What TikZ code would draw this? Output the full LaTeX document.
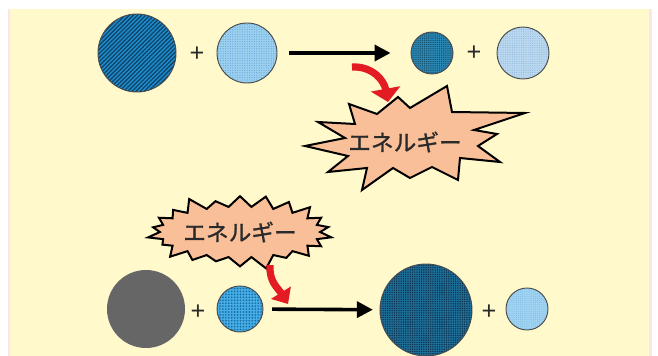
\documentclass[tikz,border=0pt]{standalone}
\usepackage{fontspec}
\newfontfamily\cjk[FakeBold=1.2]{Noto Sans CJK JP}
\newfontfamily\plusfont{Liberation Sans}
\usetikzlibrary{arrows.meta,patterns.meta,shapes.symbols}
\definecolor{bgyellow}{HTML}{FFF9CC}
\definecolor{bgpink}{HTML}{FBE4EA}
\definecolor{ballline}{HTML}{4A4A4A}
\definecolor{cAbase}{HTML}{1E8FD0}
\definecolor{cAdark}{HTML}{0F4468}
\definecolor{cBbase}{HTML}{9BD0F0}
\definecolor{cBdot}{HTML}{6AA6D2}
\definecolor{cCbase}{HTML}{2C8AB6}
\definecolor{cCdot}{HTML}{14506E}
\definecolor{cDbase}{HTML}{BAD8F0}
\definecolor{cDdot}{HTML}{8DB2D6}
\definecolor{gray1}{HTML}{666666}
\definecolor{cEbase}{HTML}{45AEE6}
\definecolor{cEdot}{HTML}{1A68A0}
\definecolor{cFbase}{HTML}{1F6F99}
\definecolor{cFdot}{HTML}{0C3450}
\definecolor{cGbase}{HTML}{A0D4F2}
\definecolor{cGdot}{HTML}{7DB6DE}
\definecolor{burstfill}{HTML}{F9BF98}
\definecolor{arrred}{HTML}{E31B23}
\definecolor{textdark}{HTML}{2A2A2A}
\begin{document}
\begin{tikzpicture}[x=0.75pt,y=-0.75pt,
  ball/.style={circle, inner sep=0pt, draw=ballline, line width=0.7pt},
  plus/.style={inner sep=0pt, font=\plusfont\fontsize{19}{19}\selectfont, text=textdark},
  arr/.style={line width=2.7pt, -{Triangle[length=12pt,width=12pt]}},
  redarr/.style={draw=arrred, line width=5.4pt, -{Triangle[length=10pt,width=#1]}},
  burst/.style={fill=burstfill, draw=black, line width=1.5pt, line join=miter},
  energy/.style={font=\cjk\fontsize{17}{17}\selectfont, text=textdark}]
\useasboundingbox (0,0) rectangle (658,356);
\fill[white] (0,0) rectangle (658,356);
\fill[bgpink] (8,9) rectangle (652,356);
\fill[bgyellow] (10,9) rectangle (649,356);

% top row
\node[ball, minimum size=58.5pt, preaction={fill=cAbase},
  pattern={Lines[angle=45,distance=2.2pt,line width=1pt]}, pattern color=cAdark] (c1) at (137,53) {};
\node[plus] (p1) at (197,54) {+};
\node[ball, minimum size=45pt, preaction={fill=cBbase},
  pattern={Dots[distance=1.8pt,radius=0.45pt]}, pattern color=cBdot] (c2) at (247,53) {};
\node[ball, minimum size=31.5pt, preaction={fill=cCbase},
  pattern={Dots[distance=1.6pt,radius=0.55pt]}, pattern color=cCdot] (c3) at (432,53) {};
\node[plus] (p2) at (474,53) {+};
\node[ball, minimum size=39pt, preaction={fill=cDbase},
  pattern={Dots[distance=1.7pt,radius=0.4pt]}, pattern color=cDdot] (c4) at (523,53) {};
\draw[arr, shorten <=9pt, shorten >=15pt] (c2) -- (c3);

% starburst 1
\draw[burst] (305,146) -- (345,138) -- (318,122) -- (355,124) -- (349,104) -- (377,114)
  -- (398,97) -- (410,108) -- (447,86) -- (452,112) -- (525,113) -- (474,130)
  -- (497,134) -- (478,146) -- (500,162) -- (460,158) -- (458,180) -- (432,167)
  -- (410,178) -- (393,168) -- (362,190) -- (367,168) -- (328,172) -- (348,156) -- cycle;
\node[energy] (e1) at (405,142) {エネルギー};
\coordinate (r1s) at (352,67);
\coordinate (r1e) at (388,102);
\draw[redarr=22pt] (r1s) .. controls (372,66) and (384,80) .. (r1e);

% starburst 2
\node[burst, energy, shape=starburst, starburst points=22, starburst point height=11pt,
  minimum width=131pt, minimum height=60pt, inner sep=0pt] (e2) at (240,232) {エネルギー};
\coordinate (r2s) at (270,265);
\coordinate (r2e) at (288,304);
\draw[redarr=17pt] (r2s) .. controls (269,282) and (278,288) .. (r2e);

% bottom row
\node[circle, inner sep=0pt, fill=gray1, minimum size=58.5pt] (b1) at (146,309) {};
\node[plus] (p3) at (198,312) {+};
\node[ball, minimum size=34.5pt, preaction={fill=cEbase},
  pattern={Dots[distance=2.2pt,radius=0.7pt]}, pattern color=cEdot] (b2) at (240,309) {};
\node[ball, minimum size=69pt, preaction={fill=cFbase},
  pattern={Dots[distance=1.7pt,radius=0.6pt]}, pattern color=cFdot] (b3) at (426,310) {};
\node[plus] (p4) at (489,312) {+};
\node[ball, minimum size=31.5pt, preaction={fill=cGbase},
  pattern={Dots[distance=1.6pt,radius=0.4pt]}, pattern color=cGdot] (b4) at (527,309) {};
\draw[arr, shorten <=6.5pt, shorten >=5pt] (b2) -- (b3);
\end{tikzpicture}
\end{document}
